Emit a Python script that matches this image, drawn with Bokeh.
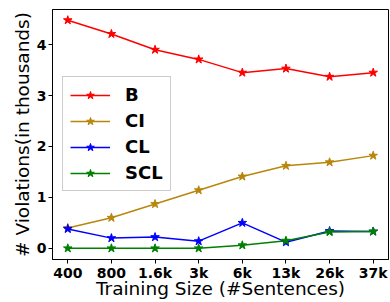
from bokeh.plotting import figure
from bokeh.models import Range1d, Legend, LegendItem, FixedTicker
from bokeh.embed import file_html
from bokeh.resources import INLINE

sizes = ["400", "800", "1.6k", "3k", "6k", "13k", "26k", "37k"]
B = [4.48, 4.21, 3.90, 3.71, 3.45, 3.53, 3.37, 3.45]
CI = [0.40, 0.60, 0.87, 1.14, 1.41, 1.62, 1.69, 1.82]
CL = [0.38, 0.20, 0.22, 0.14, 0.50, 0.12, 0.34, 0.33]
SCL = [0.0, 0.0, 0.0, 0.0, 0.06, 0.15, 0.32, 0.33]
y_ticks = [0, 1, 2, 3, 4]

xs = list(range(len(sizes)))

p = figure(width=390, height=302, output_backend="svg", toolbar_location=None,
           x_range=Range1d(-0.35, 7.35), y_range=Range1d(-0.22, 4.69),
           min_border_left=52, min_border_right=2, min_border_top=9, min_border_bottom=43)
p.grid.visible = False
p.outline_line_color = "black"
p.outline_line_width = 1
p.outline_line_alpha = 1

series = [("B", B, "#ff0000"), ("CI", CI, "#b8860b"), ("CL", CL, "#0000ff"), ("SCL", SCL, "#008000")]
items = []
for name, ys, c in series:
    l = p.line(xs, ys, line_color=c, line_width=1.5)
    s = p.scatter(xs, ys, marker="star", size=9, fill_color=c, line_color=c)
    items.append(LegendItem(label=name, renderers=[l, s]))

legend = Legend(items=items, location=(10, 68))
legend.label_text_font = "DejaVu Sans"
legend.label_text_font_style = "bold"
legend.label_text_font_size = "18px"
legend.label_text_color = "black"
legend.glyph_width = 40
legend.glyph_height = 20
legend.label_height = 20
legend.spacing = 5
legend.padding = 7
legend.margin = 0
legend.label_standoff = 15
legend.border_line_color = "#cccccc"
legend.border_line_alpha = 1
legend.background_fill_alpha = 0.8
p.add_layout(legend)

p.xaxis.ticker = FixedTicker(ticks=xs)
p.xaxis.major_label_overrides = {i: s for i, s in enumerate(sizes)}
p.yaxis.ticker = FixedTicker(ticks=y_ticks)
for ax in (p.xaxis, p.yaxis):
    ax.major_label_text_font = "DejaVu Sans"
    ax.major_label_text_font_style = "bold"
    ax.major_label_text_font_size = "14px"
    ax.major_label_text_color = "black"
    ax.major_label_standoff = 2
    ax.axis_label_text_font = "DejaVu Sans"
    ax.axis_label_text_font_style = "normal"
    ax.axis_label_text_font_size = "18.5px"
    ax.axis_label_text_color = "black"
    ax.minor_tick_line_color = None
    ax.major_tick_out = 4
    ax.major_tick_in = 0
    ax.axis_line_color = "black"
    ax.major_tick_line_color = "black"
p.xaxis.major_label_standoff = 1
p.xaxis.axis_label = "Training Size (#Sentences)"
p.yaxis.axis_label = "# Violations(in thousands)"
p.xaxis.axis_label_standoff = -6
p.yaxis.axis_label_standoff = 1

open("out.html", "w").write(file_html(p, INLINE))
